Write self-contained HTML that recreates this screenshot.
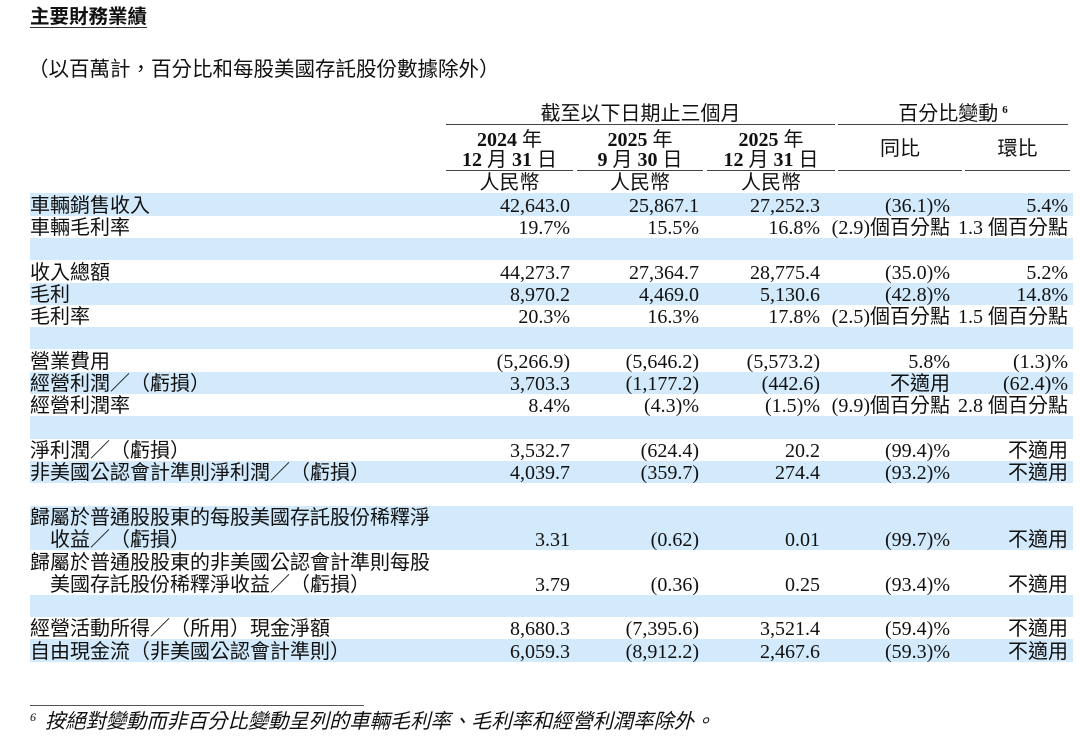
<!DOCTYPE html>
<html>
<head>
<meta charset="utf-8">
<style>
  html,body{margin:0;padding:0;background:#fff;}
  body{width:1080px;height:743px;position:relative;overflow:hidden;
       font-family:"Liberation Serif","Noto Sans CJK TC",serif;color:#111;}
  .a{position:absolute;white-space:nowrap;}
  .sh{position:absolute;left:30px;width:1043px;background:#d2eafb;}
  .ln{position:absolute;height:1.3px;background:#444;}
  .r{position:absolute;left:0;width:1080px;height:22.3px;line-height:22.3px;font-size:20px;}
  .r span{position:absolute;top:0;white-space:nowrap;}
  .l{left:30px;}
  .l2{left:50px;}
  .c1{right:510px;}
  .c2{right:381px;}
  .c3{right:260px;}
  .c4{right:130px;}
  .c5{right:12px;}
  .h{position:absolute;line-height:22.3px;font-size:20px;text-align:center;white-space:nowrap;}
  .h b{font-weight:700;}
</style>
</head>
<body>

<!-- Title -->
<div class="a" style="left:30px;top:6.5px;font-size:19.5px;line-height:22.3px;font-weight:700;">主要財務業績</div>
<div class="ln" style="left:30px;top:26.6px;width:117px;height:1.2px;background:#333;"></div>

<!-- Subtitle -->
<div class="a" style="left:28px;top:59.3px;font-size:20.5px;line-height:22.3px;">（以百萬計，百分比和每股美國存託股份數據除外）</div>

<!-- Shading bands -->
<div class="sh" style="top:193.3px;height:22.3px;"></div>
<div class="sh" style="top:237.9px;height:22.3px;"></div>
<div class="sh" style="top:282.5px;height:22.3px;"></div>
<div class="sh" style="top:327.1px;height:22.3px;"></div>
<div class="sh" style="top:371.7px;height:22.3px;"></div>
<div class="sh" style="top:416.3px;height:22.3px;"></div>
<div class="sh" style="top:460.9px;height:22.3px;"></div>
<div class="sh" style="top:505.5px;height:44.6px;"></div>
<div class="sh" style="top:594.7px;height:22.3px;"></div>
<div class="sh" style="top:639.3px;height:22.3px;"></div>

<!-- Header -->
<div class="h" style="left:446px;width:389px;top:103.1px;">截至以下日期止三個月</div>
<div class="h" style="left:838px;width:230px;top:103.1px;">百分比變動<span style="font-size:11px;font-weight:700;position:relative;top:-7px;margin-left:4px;">6</span></div>
<div class="ln" style="left:446px;top:123.5px;width:389px;"></div>
<div class="ln" style="left:838px;top:123.5px;width:230px;"></div>

<div class="h" style="left:446px;width:127px;top:128.6px;"><b>2024</b> 年</div>
<div class="h" style="left:577px;width:126px;top:128.6px;"><b>2025</b> 年</div>
<div class="h" style="left:707px;width:128px;top:128.6px;"><b>2025</b> 年</div>
<div class="h" style="left:446px;width:127px;top:149.1px;"><b>12</b> 月 <b>31</b> 日</div>
<div class="h" style="left:577px;width:126px;top:149.1px;"><b>9</b> 月 <b>30</b> 日</div>
<div class="h" style="left:707px;width:128px;top:149.1px;"><b>12</b> 月 <b>31</b> 日</div>
<div class="h" style="left:838px;width:124px;top:138.1px;">同比</div>
<div class="h" style="left:965px;width:105px;top:138.1px;">環比</div>

<div class="ln" style="left:446px;top:170px;width:127px;"></div>
<div class="ln" style="left:577px;top:170px;width:126px;"></div>
<div class="ln" style="left:707px;top:170px;width:128px;"></div>
<div class="ln" style="left:838px;top:170px;width:124px;"></div>
<div class="ln" style="left:965px;top:170px;width:105px;"></div>

<div class="h" style="left:446px;width:127px;top:172.1px;">人民幣</div>
<div class="h" style="left:577px;width:126px;top:172.1px;">人民幣</div>
<div class="h" style="left:707px;width:128px;top:172.1px;">人民幣</div>

<!-- Rows -->
<div class="r" style="top:194.7px;"><span class="l">車輛銷售收入</span><span class="c1">42,643.0</span><span class="c2">25,867.1</span><span class="c3">27,252.3</span><span class="c4">(36.1)%</span><span class="c5">5.4%</span></div>
<div class="r" style="top:217.0px;"><span class="l">車輛毛利率</span><span class="c1">19.7%</span><span class="c2">15.5%</span><span class="c3">16.8%</span><span class="c4">(2.9)個百分點</span><span class="c5">1.3 個百分點</span></div>

<div class="r" style="top:261.6px;"><span class="l">收入總額</span><span class="c1">44,273.7</span><span class="c2">27,364.7</span><span class="c3">28,775.4</span><span class="c4">(35.0)%</span><span class="c5">5.2%</span></div>
<div class="r" style="top:283.9px;"><span class="l">毛利</span><span class="c1">8,970.2</span><span class="c2">4,469.0</span><span class="c3">5,130.6</span><span class="c4">(42.8)%</span><span class="c5">14.8%</span></div>
<div class="r" style="top:306.2px;"><span class="l">毛利率</span><span class="c1">20.3%</span><span class="c2">16.3%</span><span class="c3">17.8%</span><span class="c4">(2.5)個百分點</span><span class="c5">1.5 個百分點</span></div>

<div class="r" style="top:350.8px;"><span class="l">營業費用</span><span class="c1">(5,266.9)</span><span class="c2">(5,646.2)</span><span class="c3">(5,573.2)</span><span class="c4">5.8%</span><span class="c5">(1.3)%</span></div>
<div class="r" style="top:373.1px;"><span class="l">經營利潤／（虧損）</span><span class="c1">3,703.3</span><span class="c2">(1,177.2)</span><span class="c3">(442.6)</span><span class="c4">不適用</span><span class="c5">(62.4)%</span></div>
<div class="r" style="top:395.4px;"><span class="l">經營利潤率</span><span class="c1">8.4%</span><span class="c2">(4.3)%</span><span class="c3">(1.5)%</span><span class="c4">(9.9)個百分點</span><span class="c5">2.8 個百分點</span></div>

<div class="r" style="top:440.0px;"><span class="l">淨利潤／（虧損）</span><span class="c1">3,532.7</span><span class="c2">(624.4)</span><span class="c3">20.2</span><span class="c4">(99.4)%</span><span class="c5">不適用</span></div>
<div class="r" style="top:462.3px;"><span class="l">非美國公認會計準則淨利潤／（虧損）</span><span class="c1">4,039.7</span><span class="c2">(359.7)</span><span class="c3">274.4</span><span class="c4">(93.2)%</span><span class="c5">不適用</span></div>

<div class="r" style="top:506.9px;"><span class="l">歸屬於普通股股東的每股美國存託股份稀釋淨</span></div>
<div class="r" style="top:529.2px;"><span class="l2">收益／（虧損）</span><span class="c1">3.31</span><span class="c2">(0.62)</span><span class="c3">0.01</span><span class="c4">(99.7)%</span><span class="c5">不適用</span></div>
<div class="r" style="top:551.5px;"><span class="l">歸屬於普通股股東的非美國公認會計準則每股</span></div>
<div class="r" style="top:573.8px;"><span class="l2">美國存託股份稀釋淨收益／（虧損）</span><span class="c1">3.79</span><span class="c2">(0.36)</span><span class="c3">0.25</span><span class="c4">(93.4)%</span><span class="c5">不適用</span></div>

<div class="r" style="top:618.4px;"><span class="l">經營活動所得／（所用）現金淨額</span><span class="c1">8,680.3</span><span class="c2">(7,395.6)</span><span class="c3">3,521.4</span><span class="c4">(59.4)%</span><span class="c5">不適用</span></div>
<div class="r" style="top:640.7px;"><span class="l">自由現金流（非美國公認會計準則）</span><span class="c1">6,059.3</span><span class="c2">(8,912.2)</span><span class="c3">2,467.6</span><span class="c4">(59.3)%</span><span class="c5">不適用</span></div>

<!-- Footnote -->
<div class="ln" style="left:30px;top:704.5px;width:334px;height:1.2px;background:#555;"></div>
<div class="a" style="left:30px;top:710px;font-size:12px;line-height:14px;font-style:italic;">6</div>
<div class="a" style="left:45px;top:711px;font-size:20.3px;line-height:22.3px;font-style:italic;">按絕對變動而非百分比變動呈列的車輛毛利率、毛利率和經營利潤率除外。</div>

</body>
</html>
